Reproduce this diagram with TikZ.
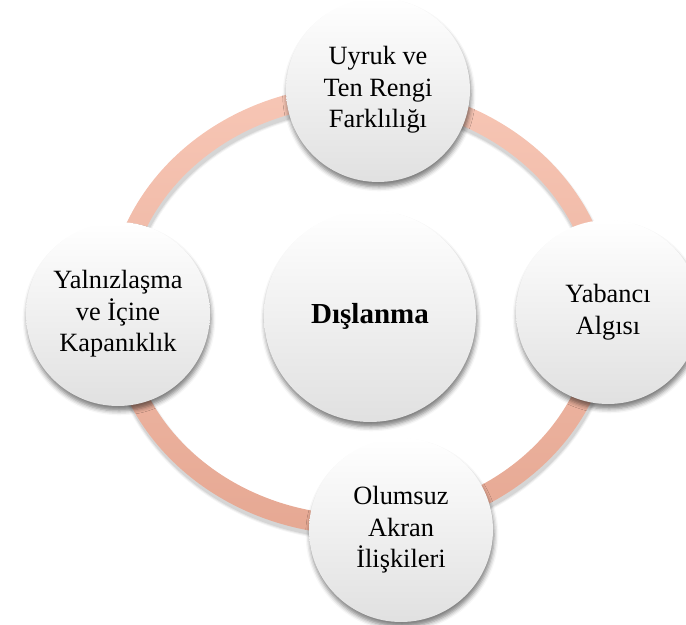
\documentclass[tikz,border=0pt]{standalone}
\usepackage{fontspec}
\setmainfont{Liberation Serif}
\usetikzlibrary{shadows.blur}
\definecolor{ringtop}{HTML}{F7C6B5}
\definecolor{ringbot}{HTML}{E6A893}
\tikzset{
  topic/.style={circle, minimum size=3.68cm, inner sep=0pt, align=center,
    top color=white, middle color=white, bottom color=gray!24,
    blur shadow={shadow xshift=0.6pt, shadow yshift=-2.8pt,
      shadow blur radius=2.5pt, shadow opacity=50},
    font=\fontsize{15}{18}\selectfont},
  core/.style={topic, minimum size=4.24cm,
    font=\fontsize{16.5}{19}\selectfont\bfseries}
}
\begin{document}
\begin{tikzpicture}[x=0.02cm, y=-0.02cm]
  \useasboundingbox (0,0) rectangle (686,625);
  % ring with its shadow
  \foreach \w/\o in {25/0.04, 23/0.06, 21/0.08} {
    \draw[black, opacity=\o, line width=\w*0.02cm]
      (361,314) ellipse [x radius=243, y radius=215];
  }
  \shade[top color=ringtop, bottom color=ringbot, even odd rule]
    (360,310) ellipse [x radius=253, y radius=225]
    (360,310) ellipse [x radius=233, y radius=205];
  % circles
  \node[core] (excl) at (370,316) {Dışlanma};
  \node[topic] (origin) at (378,90) {Uyruk ve\\Ten Rengi\\Farklılığı};
  \node[topic] (foreign) at (608,312) {Yabancı\\Algısı};
  \node[topic] (peers) at (401,530) {Olumsuz\\Akran\\İlişkileri};
  \node[topic] (lonely) at (118,314) {Yalnızlaşma\\ve İçine\\Kapanıklık};
\end{tikzpicture}
\end{document}
